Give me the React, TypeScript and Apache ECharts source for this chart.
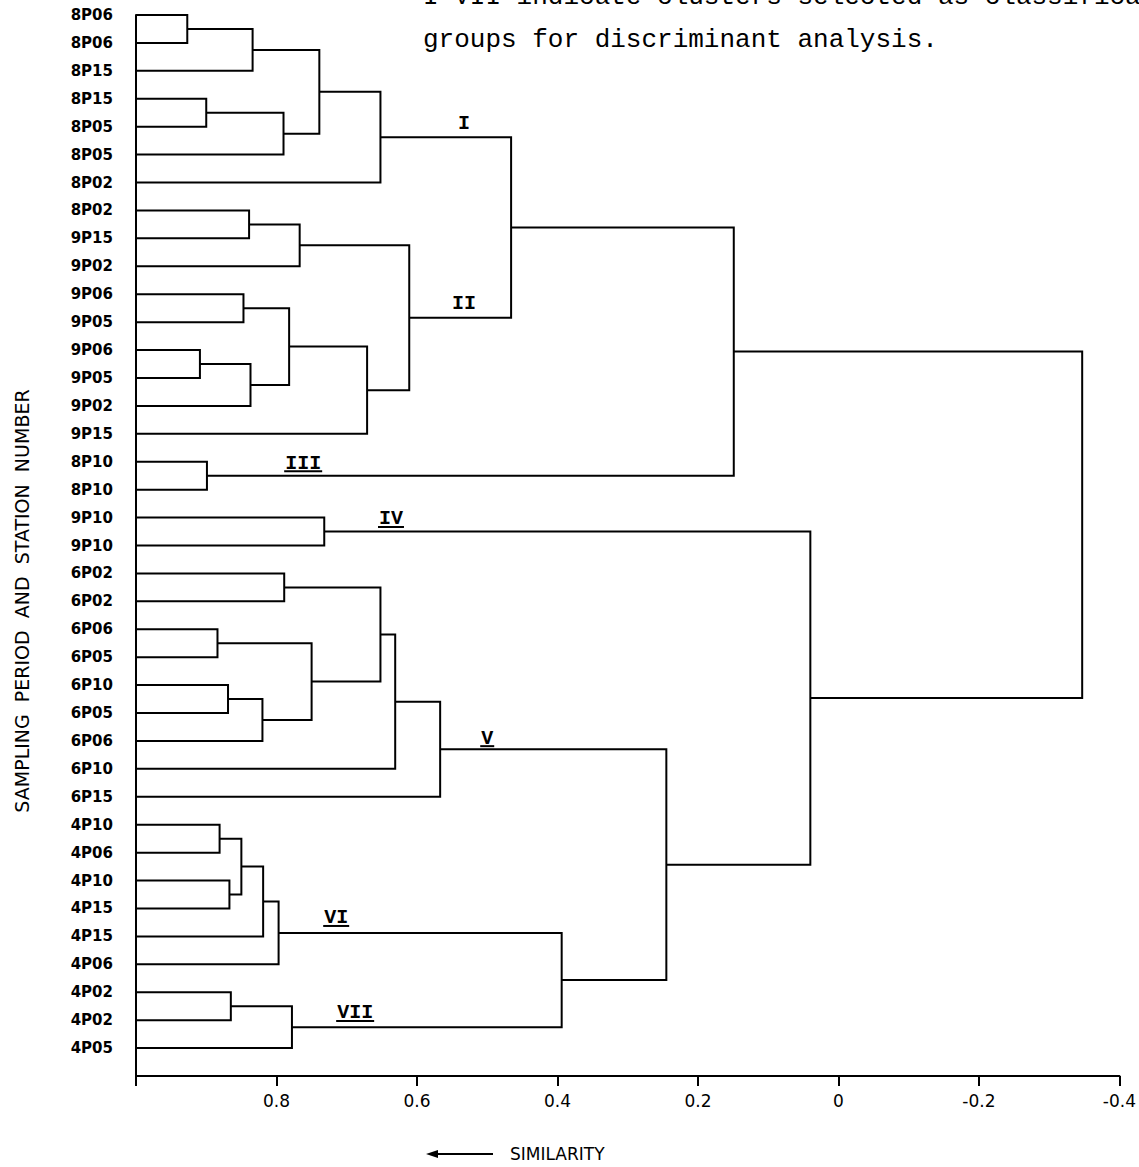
import React, { useEffect, useRef } from "react";
import * as echarts from "echarts";

// Leaves (top to bottom)
const leafLabels = [
  "8P06", "8P06", "8P15", "8P15", "8P05", "8P05", "8P02", "8P02", "9P15", "9P02",
  "9P06", "9P05", "9P06", "9P05", "9P02", "9P15", "8P10", "8P10", "9P10", "9P10",
  "6P02", "6P02", "6P06", "6P05", "6P10", "6P05", "6P06", "6P10", "6P15", "4P10",
  "4P06", "4P10", "4P15", "4P15", "4P06", "4P02", "4P02", "4P05",
];
const leafSimilarity = 1.0;

// Merges (linkage): node ids 0..37 are leaves, 38.. are merges in order
const mergeLeft = [0, 38, 3, 40, 39, 42, 7, 44, 10, 12, 47, 46, 49, 45, 43, 16, 52, 18, 20, 22, 24, 58, 57, 56, 61, 62, 29, 31, 64, 66, 67, 35, 69, 68, 63, 55, 54];
const mergeRight = [1, 2, 4, 5, 41, 6, 8, 9, 11, 13, 14, 48, 15, 50, 51, 17, 53, 19, 21, 23, 25, 26, 59, 60, 27, 28, 30, 32, 65, 33, 34, 36, 37, 70, 71, 72, 73];
const mergeSimilarity = [
  0.927, 0.834, 0.9, 0.79, 0.739, 0.652, 0.839, 0.767, 0.847, 0.909,
  0.837, 0.782, 0.671, 0.611, 0.466, 0.899, 0.149, 0.732, 0.789, 0.884,
  0.869, 0.82, 0.75, 0.652, 0.631, 0.567, 0.881, 0.867, 0.85, 0.819,
  0.797, 0.865, 0.778, 0.394, 0.245, 0.04, -0.347,
];

// Cluster annotations
const clusterNames = ["I", "II", "III", "IV", "V", "VI", "VII"];
const clusterLabelSim = [0.533, 0.533, 0.762, 0.637, 0.5, 0.715, 0.688];
const clusterLabelPos = [3.87, 10.35, 16.05, 18.05, 25.9, 32.34, 35.74];
const clusterUnderlined = [false, false, true, true, true, true, true];

// Axis
const xMin = -0.4;
const xMax = 1.0;
const xInterval = 0.2;

const captionLines = [
  "I-VII indicate clusters selected as classification",
  "groups for discriminant analysis.",
];
const yAxisTitle = "SAMPLING  PERIOD  AND  STATION  NUMBER";
const xAxisTitle = "SIMILARITY";

function buildLinks() {
  const nodeX: number[] = [];
  const nodeY: number[] = [];
  leafLabels.forEach((_, i) => {
    nodeX.push(leafSimilarity);
    nodeY.push(i);
  });
  const links: number[][] = [];
  mergeLeft.forEach((a, k) => {
    const b = mergeRight[k];
    const h = mergeSimilarity[k];
    links.push([nodeX[a], nodeY[a], h, nodeY[b], nodeX[b]]);
    nodeX.push(h);
    nodeY.push((nodeY[a] + nodeY[b]) / 2);
  });
  return links;
}

export default function App() {
  const ref = useRef<HTMLDivElement>(null);
  useEffect(() => {
    if (!ref.current) return;
    const chart = echarts.init(ref.current, null, { renderer: "svg" });
    const links = buildLinks();
    const clusterData = clusterNames.map((_, i) => [clusterLabelSim[i], clusterLabelPos[i], i]);
    const mono = "'Liberation Mono', 'DejaVu Sans Mono', monospace";
    const sans = "'DejaVu Sans', sans-serif";

    chart.setOption({
      animation: false,
      backgroundColor: "#ffffff",
      grid: { left: 136, top: 15, width: 987, height: 1061, containLabel: false },
      xAxis: {
        type: "value",
        position: "bottom",
        min: xMin,
        max: xMax,
        interval: xInterval,
        inverse: true,
        axisLine: { show: true, onZero: false, lineStyle: { color: "#000", width: 2 } },
        axisTick: { show: true, length: 10, lineStyle: { color: "#000", width: 2 } },
        axisLabel: {
          color: "#000",
          fontSize: 17,
          fontFamily: sans,
          margin: 16,
          formatter: (v: number) => {
            if (Math.abs(v - 1) < 1e-6) return "";
            if (Math.abs(v) < 1e-6) return "0";
            return v.toFixed(1);
          },
        },
        splitLine: { show: false },
      },
      yAxis: {
        type: "value",
        position: "left",
        min: 0,
        max: leafLabels.length,
        interval: 1,
        inverse: true,
        axisLine: { show: true, onZero: false, lineStyle: { color: "#000", width: 2 } },
        axisTick: { show: false },
        axisLabel: {
          color: "#000",
          fontSize: 15,
          fontWeight: "bold",
          fontFamily: sans,
          margin: 23,
          formatter: (v: number) => leafLabels[Math.round(v)] ?? "",
        },
        splitLine: { show: false },
      },
      graphic: [
        {
          type: "text",
          left: 423,
          top: -16,
          style: { text: captionLines[0], fontSize: 26, fontFamily: mono, fill: "#000" },
        },
        {
          type: "text",
          left: 423,
          top: 27,
          style: { text: captionLines[1], fontSize: 26, fontFamily: mono, fill: "#000" },
        },
        {
          type: "text",
          x: 22,
          y: 601,
          rotation: Math.PI / 2,
          style: {
            text: yAxisTitle,
            fontSize: 19,
            fontFamily: sans,
            fill: "#000",
            textAlign: "center",
            textVerticalAlign: "middle",
          },
        },
        {
          type: "line",
          shape: { x1: 432, y1: 1154, x2: 493, y2: 1154 },
          style: { stroke: "#000", lineWidth: 2 },
        },
        {
          type: "polygon",
          shape: { points: [[426, 1154], [438, 1150], [438, 1158]] },
          style: { fill: "#000" },
        },
        {
          type: "text",
          x: 510,
          y: 1154,
          style: {
            text: xAxisTitle,
            fontSize: 17,
            fontWeight: 500,
            fontFamily: sans,
            fill: "#000",
            textAlign: "left",
            textVerticalAlign: "middle",
          },
        },
      ],
      series: [
        {
          type: "custom",
          name: "dendrogram",
          data: links,
          dimensions: ["xa", "ya", "h", "yb", "xb"],
          encode: { x: ["xa", "h", "xb"], y: ["ya", "yb"] },
          renderItem: (params: any, api: any) => {
            const p1 = api.coord([api.value(0), api.value(1)]);
            const p2 = api.coord([api.value(2), api.value(1)]);
            const p3 = api.coord([api.value(2), api.value(3)]);
            const p4 = api.coord([api.value(4), api.value(3)]);
            return {
              type: "polyline",
              shape: { points: [p1, p2, p3, p4] },
              style: { stroke: "#000", lineWidth: 2, fill: "none" },
            };
          },
          silent: true,
        },
        {
          type: "custom",
          name: "clusters",
          data: clusterData,
          renderItem: (params: any, api: any) => {
            const idx = api.value(2);
            const p = api.coord([api.value(0), api.value(1)]);
            const name = clusterNames[idx];
            const fs = 20;
            const w = name.length * fs * 0.6;
            const children: any[] = [
              {
                type: "text",
                x: p[0],
                y: p[1],
                style: {
                  text: name,
                  fontSize: fs,
                  fontWeight: "bold",
                  fontFamily: mono,
                  fill: "#000",
                  align: "center",
                  verticalAlign: "middle",
                },
              },
            ];
            if (clusterUnderlined[idx]) {
              children.push({
                type: "line",
                shape: { x1: p[0] - w / 2 - 1, y1: p[1] + 8, x2: p[0] + w / 2 + 1, y2: p[1] + 8 },
                style: { stroke: "#000", lineWidth: 2 },
              });
            }
            return { type: "group", children };
          },
          silent: true,
        },
      ],
    });
    return () => chart.dispose();
  }, []);
  return (
    <div
      ref={ref}
      style={{ position: "absolute", left: 0, top: 0, width: 1139, height: 1167, background: "#fff" }}
    />
  );
}
